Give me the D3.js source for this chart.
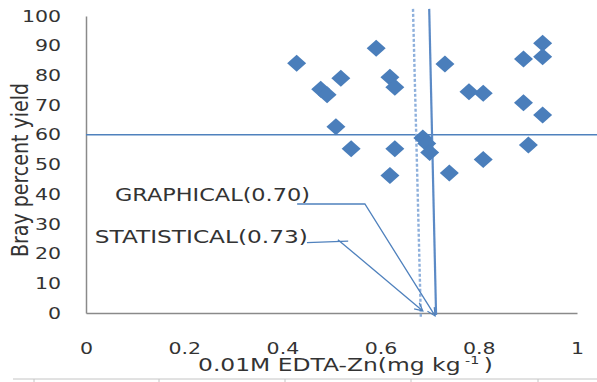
<!DOCTYPE html>
<html>
<head>
<meta charset="utf-8">
<script src="https://cdn.jsdelivr.net/npm/d3@7"></script>
<style>
  body { margin: 0; background: #fff; }
  svg text { font-family: "DejaVu Sans", sans-serif; fill: #333; }
</style>
</head>
<body>
<script>
// scatter points
const zn = [0.429, 0.591, 0.519, 0.478, 0.491, 0.619, 0.629, 0.509, 0.540, 0.629, 0.619,
            0.686, 0.694, 0.700, 0.731, 0.740, 0.780, 0.809, 0.809, 0.891, 0.930, 0.930,
            0.891, 0.930, 0.901]
const yieldPct = [84.1, 89.1, 79.0, 75.3, 73.5, 79.4, 76.0, 62.7, 55.3, 55.3, 46.3,
                  58.9, 57.1, 54.0, 83.8, 47.1, 74.5, 74.0, 51.7, 85.5, 90.8, 86.3,
                  70.8, 66.7, 56.6]

const xTicks = [0, 0.2, 0.4, 0.6, 0.8, 1]
const yTicks = [0, 10, 20, 30, 40, 50, 60, 70, 80, 90, 100]
const yieldLine = 60

// critical level lines (x at top, x at bottom) and annotation arrows, in data units
const dashedLine = [[0.666, 102.4], [0.682, -1.7]]
const solidLine = [[0.699, 102.4], [0.713, -0.7]]
const graphicalArrow = [[0.430, 36.7], [0.568, 36.7], [0.711, -1.0]]
const statisticalBar = [[0.450, 23.7], [0.534, 24.2]]
const statisticalArrow = [[0.513, 24.7], [0.686, 0.7]]
const labels = ["GRAPHICAL(0.70)", "STATISTICAL(0.73)"]
const labelPos = [[0.059, 37.8], [0.018, 23.5]]

const width = 597
const height = 382
const margin = {top: 16, right: 20, bottom: 69, left: 86}

const svg = d3.select("body").append("svg")
    .attr("width", width)
    .attr("height", height)

const x = d3.scaleLinear().domain([0, 1]).range([margin.left, width - margin.right])
const y = d3.scaleLinear().domain([0, 100]).range([height - margin.bottom, margin.top])

svg.append("defs").append("marker")
    .attr("id", "head")
    .attr("markerUnits", "userSpaceOnUse")
    .attr("markerWidth", 10).attr("markerHeight", 10)
    .attr("refX", 9).attr("refY", 5)
    .attr("orient", "auto")
  .append("path")
    .attr("d", "M1,1 L9,5 L1,9")
    .attr("fill", "none")
    .attr("stroke", "#4f81bd")
    .attr("stroke-width", 1.2)

// axes
const xAxis = svg.append("g")
    .attr("transform", `translate(0,${y(0)})`)
    .call(d3.axisBottom(x).tickValues(xTicks).tickSize(0).tickPadding(30).tickFormat(d3.format("")))
xAxis.select(".domain").attr("stroke", "#8a8a8a").attr("stroke-width", 1.5)
xAxis.selectAll("text").attr("font-size", 16).attr("fill", "#333")

const yAxis = svg.append("g")
    .attr("transform", `translate(${x(0)},0)`)
    .call(d3.axisLeft(y).tickValues(yTicks).tickSize(0).tickPadding(25))
yAxis.select(".domain").attr("stroke", "#8a8a8a").attr("stroke-width", 1.5)
yAxis.selectAll("text").attr("font-size", 16).attr("fill", "#333")

// make tick digits as wide as in the picture
svg.selectAll(".tick text").each(function () {
    const w = this.getComputedTextLength()
    d3.select(this).attr("textLength", w * 1.28).attr("lengthAdjust", "spacingAndGlyphs")
})

// horizontal 60% line runs to the page edge
svg.append("line")
    .attr("x1", x(0)).attr("x2", width)
    .attr("y1", y(yieldLine)).attr("y2", y(yieldLine))
    .attr("stroke", "#4f81bd").attr("stroke-width", 1.6)

const line = d3.line().x(d => x(d[0])).y(d => y(d[1]))

svg.append("path")
    .attr("d", line(dashedLine))
    .attr("fill", "none")
    .attr("stroke", "#8eb0dc").attr("stroke-width", 2.4)
    .attr("stroke-dasharray", "3,2")

svg.append("path")
    .attr("d", line(solidLine))
    .attr("fill", "none")
    .attr("stroke", "#5b8ac6").attr("stroke-width", 2.2)

// points
const diamond = "M0,-8.5 L9.5,0 L0,8.5 L-9.5,0 Z"
svg.append("g")
    .selectAll("path")
    .data(zn)
    .join("path")
    .attr("d", diamond)
    .attr("transform", (d, i) => `translate(${x(d)},${y(yieldPct[i])})`)
    .attr("fill", "#4a7ebb")

// annotations
svg.append("path")
    .attr("d", line(graphicalArrow))
    .attr("fill", "none")
    .attr("stroke", "#4f81bd").attr("stroke-width", 1.3)
    .attr("marker-end", "url(#head)")

svg.append("path")
    .attr("d", line(statisticalBar))
    .attr("fill", "none")
    .attr("stroke", "#4f81bd").attr("stroke-width", 1.3)

svg.append("path")
    .attr("d", line(statisticalArrow))
    .attr("fill", "none")
    .attr("stroke", "#4f81bd").attr("stroke-width", 1.3)
    .attr("marker-end", "url(#head)")

const labelWidths = [195, 213]
svg.selectAll(".note")
    .data(labels)
    .join("text")
    .attr("class", "note")
    .attr("x", (d, i) => x(labelPos[i][0]))
    .attr("y", (d, i) => y(labelPos[i][1]))
    .attr("font-size", 18)
    .attr("textLength", (d, i) => labelWidths[i])
    .attr("lengthAdjust", "spacingAndGlyphs")
    .text(d => d)

// axis titles
const xTitle = svg.append("text")
    .attr("x", 198)
    .attr("y", 371)
    .attr("font-size", 18)
    .attr("textLength", 295)
    .attr("lengthAdjust", "spacingAndGlyphs")
xTitle.append("tspan").text("0.01M EDTA-Zn(mg kg")
xTitle.append("tspan").attr("font-size", 11).attr("dy", -7).text(" -1 ")
xTitle.append("tspan").attr("dy", 7).text(" )")

svg.append("text")
    .attr("transform", "translate(28,170) scale(1.35,1) rotate(-90)")
    .attr("text-anchor", "middle")
    .attr("font-size", 17)
    .attr("textLength", 174)
    .attr("lengthAdjust", "spacingAndGlyphs")
    .text("Bray percent yield")

// light rule under the chart with small marks, as in the picture
svg.append("line")
    .attr("x1", 13).attr("x2", width)
    .attr("y1", 379).attr("y2", 379)
    .attr("stroke", "#c4c4c4").attr("stroke-width", 1)
svg.append("g")
    .selectAll("line")
    .data([34, 159, 285, 411, 538])
    .join("line")
    .attr("x1", d => d).attr("x2", d => d)
    .attr("y1", 379).attr("y2", 382)
    .attr("stroke", "#c4c4c4")
</script>
</body>
</html>
